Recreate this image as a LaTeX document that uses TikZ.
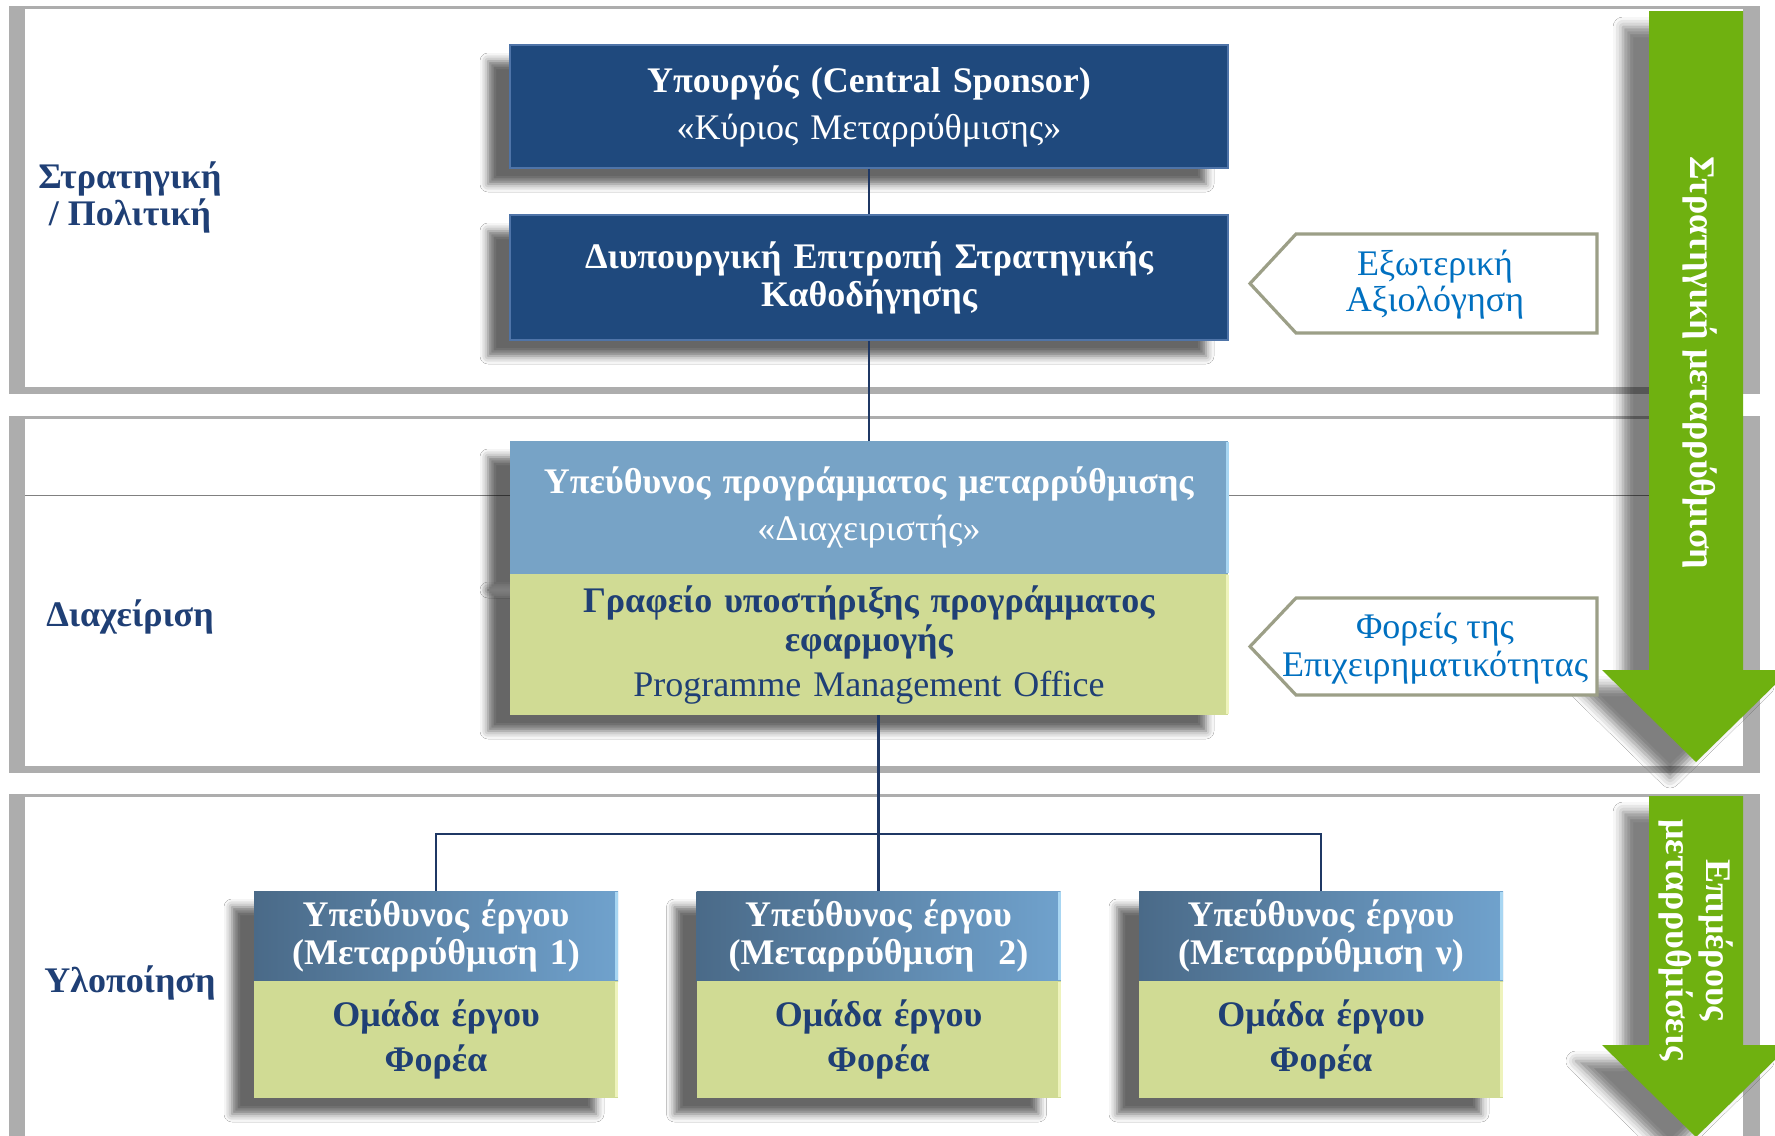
\documentclass[tikz,border=0pt]{standalone}
\usepackage{fontspec}
\setmainfont{Liberation Serif}
\usetikzlibrary{shadows.blur,calc}
\definecolor{navy}{HTML}{1F497D}
\definecolor{navyedge}{HTML}{4F74A8}
\definecolor{navytxt}{HTML}{1F3F75}
\definecolor{lineblue}{HTML}{1F3864}
\definecolor{lblue}{HTML}{77A3C6}
\definecolor{lblueedge}{HTML}{A8D6F2}
\definecolor{lgreen}{HTML}{D0DB94}
\definecolor{lgreenedge}{HTML}{EEF3BC}
\definecolor{sbdark}{HTML}{4A6A88}
\definecolor{sblight}{HTML}{70A2CD}
\definecolor{arrgreen}{HTML}{6FB110}
\definecolor{calloutborder}{HTML}{9C9F87}
\definecolor{callouttext}{HTML}{0070C0}
\definecolor{bandline}{HTML}{808080}
\tikzset{
  bandshadow/.style={fill=black!32},
  band/.style={fill=white},
  boxshadow/.style={blur shadow={shadow xshift=-11pt, shadow yshift=-8pt, shadow blur radius=4pt, shadow opacity=60}},
  arrowshadow/.style={blur shadow={shadow xshift=-13pt, shadow yshift=-8pt, shadow blur radius=5pt, shadow opacity=50}},
  bigbox/.style={boxshadow, minimum width=359pt, inner sep=0pt, align=center, text width=355pt},
  navybox/.style={bigbox, fill=navy, draw=navyedge, line width=0.8pt, text=white},
  smallbox/.style={minimum width=182pt, inner sep=0pt, align=center, text width=178pt},
  conn/.style={draw=lineblue, line width=1.3pt},
  callout/.style={draw=calloutborder, line width=1.6pt, fill=white},
  callouttxt/.style={text=callouttext, align=center, inner sep=0pt},
  lefttxt/.style={text=navytxt, align=center, inner sep=0pt, font=\fontsize{18}{18.5}\selectfont\bfseries},
  arrowtxt/.style={text=white, rotate=-90, align=center, inner sep=0pt, font=\fontsize{18}{20}\selectfont\bfseries},
}
\begin{document}
\begin{tikzpicture}[x=0.5pt,y=-0.5pt]
\clip (0,0) rectangle (1775,1135);
\fill[white] (0,0) rectangle (1775,1135);
% bands
\fill[bandshadow] (9,6) rectangle (1760,394);
\fill[band] (25,9) rectangle (1743,387);
\fill[bandshadow] (9,416) rectangle (1760,773);
\fill[band] (25,419) rectangle (1743,766);
\fill[bandshadow] (9,794) rectangle (1760,1140);
\fill[band] (25,797) rectangle (1743,1140);
\draw[bandline, line width=0.5pt] (25,495) -- (1649,495);
% green arrows
\path[fill=arrgreen, arrowshadow] (1649,11) -- (1743,11) -- (1743,670) -- (1790,670) -- (1696,762) -- (1602,670) -- (1649,670) -- cycle;
\path[fill=arrgreen, arrowshadow] (1649,796) -- (1743,796) -- (1743,1045) -- (1790,1045) -- (1696,1137) -- (1602,1045) -- (1649,1045) -- cycle;
\node[arrowtxt] (arr1txt) at (1700,363) {Στρατηγική μεταρρύθμιση};
\node[arrowtxt] (arr2txt) at (1696,940) {Επιμέρους\\μεταρρυθμίσεις};
% boxes
\node[navybox, minimum height=61.5pt, font=\fontsize{18}{23.5}\selectfont] (minister) at (869,106.5)
  {\textbf{Υπουργός (Central Sponsor)}\\«Κύριος Μεταρρύθμισης»};
\node[navybox, minimum height=62.5pt, font=\fontsize{18}{19}\selectfont\bfseries] (committee) at (869,277.5)
  {Διυπουργική Επιτροπή Στρατηγικής\\Καθοδήγησης};
\node[bigbox, fill=lblue, text=white, minimum height=66.5pt, font=\fontsize{18}{23.5}\selectfont] (manager) at (869,507.5)
  {\textbf{Υπεύθυνος προγράμματος μεταρρύθμισης}\\«Διαχειριστής»};
\node[bigbox, fill=lgreen, text=navytxt, minimum height=70.5pt, font=\fontsize{18}{19.5}\selectfont] (pmo) at (869,644.5)
  {\textbf{Γραφείο υποστήριξης προγράμματος}\\\textbf{εφαρμογής}\\[3pt]Programme Management Office};
\draw[lblueedge, line width=1.5pt] (1227,442) -- (1227,573);
\draw[lgreenedge, line width=1.5pt] (1227,575) -- (1227,714);
% small boxes
\foreach \i/\cx/\lab in {1/436/{(Μεταρρύθμιση 1)}, 2/878.5/{(Μεταρρύθμιση\ \ 2)}, 3/1321/{(Μεταρρύθμιση ν)}} {
  \path[boxshadow, fill=white] (\cx-182,891) rectangle (\cx+182,1098);
  \node[smallbox, left color=sbdark, right color=sblight, text=white, minimum height=45pt,
        font=\fontsize{18}{19}\selectfont\bfseries] (lead\i) at (\cx,936) {Υπεύθυνος έργου\\\lab};
  \node[smallbox, fill=lgreen, text=navytxt, minimum height=58.5pt,
        font=\fontsize{18}{22.5}\selectfont\bfseries] (team\i) at (\cx,1039.5) {Ομάδα έργου\\Φορέα};
  \draw[lblueedge, line width=1.5pt] ($(lead\i.north east)+(-1.5,1)$) -- ($(lead\i.south east)+(-1.5,-1)$);
  \draw[lgreenedge, line width=1.5pt] ($(team\i.north east)+(-1.5,1)$) -- ($(team\i.south east)+(-1.5,-1)$);
}
% connectors
\draw[conn] (minister.south) -- (committee.north);
\draw[conn] (committee.south) -- (manager.north);
\coordinate (barL) at (436,834);
\draw[conn] (pmo.south -| lead2.north) -- (lead2.north);
\draw[conn] (lead1.north) -- (lead1.north |- barL) -- (lead3.north |- barL) -- (lead3.north);
% callouts
\draw[callout] (1597,234) -- (1296,234) -- (1250,283.5) -- (1296,333) -- (1597,333) -- cycle;
\node[callouttxt, font=\fontsize{18}{18}\selectfont] (evaltxt) at (1435,285) {Εξωτερική\\Αξιολόγηση};
\draw[callout] (1597,598) -- (1296,598) -- (1250,646.5) -- (1296,695) -- (1597,695) -- cycle;
\node[callouttxt, font=\fontsize{18}{19}\selectfont] (bustxt) at (1435,649) {Φορείς της\\Επιχειρηματικότητας};
% left labels
\node[lefttxt] (lstrat) at (130,197) {Στρατηγική\\/ Πολιτική};
\node[lefttxt] (lmanage) at (130,617) {Διαχείριση};
\node[lefttxt] (limpl) at (130,983) {Υλοποίηση};
\end{tikzpicture}
\end{document}
